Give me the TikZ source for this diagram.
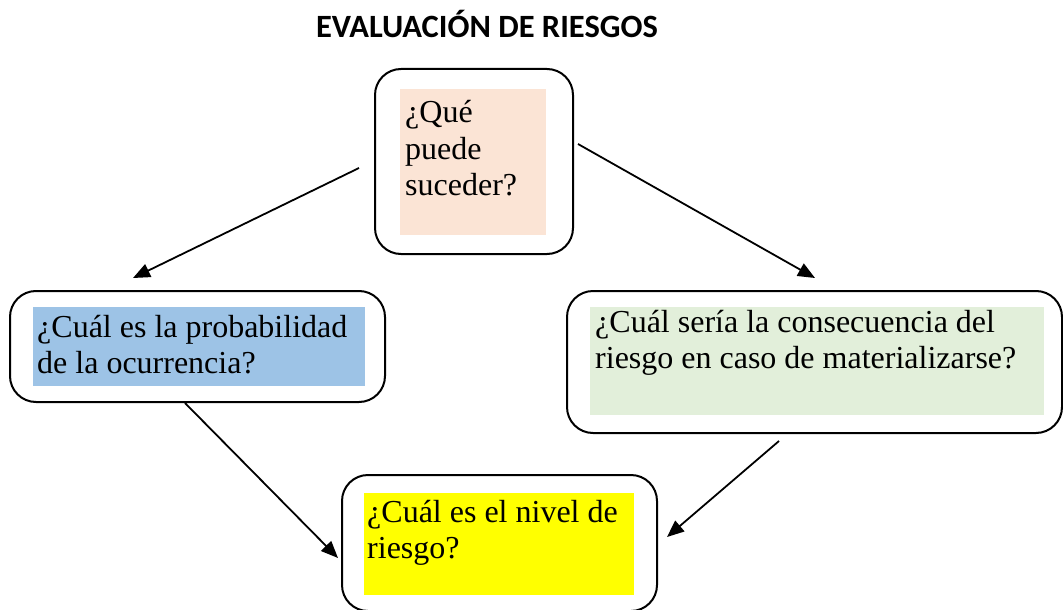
\documentclass[tikz,border=0pt]{standalone}
\usepackage{fontspec}
\setmainfont{Liberation Serif}
\newfontfamily\titlefont{Carlito}
\usetikzlibrary{arrows.meta}
\definecolor{peach}{HTML}{FBE4D5}
\definecolor{skyb}{HTML}{9DC3E6}
\definecolor{paleg}{HTML}{E2EFDA}
\definecolor{yell}{HTML}{FFFF00}
\tikzset{
  box/.style={draw=black, line width=2pt, rounded corners=26pt, fill=white, inner sep=0pt},
  fillbox/.style={draw=none, inner sep=0pt},
  txt/.style={anchor=base west, inner sep=0pt, font=\fontsize{32}{36}\selectfont},
  conn/.style={line width=1.8pt, -{Triangle[length=17pt,width=14pt]}},
}
\begin{document}
\begin{tikzpicture}[x=1pt,y=-1pt]
\useasboundingbox (0,0) rectangle (1063,610);
\clip (0,0) rectangle (1063,610);
\fill[white] (0,0) rectangle (1063,610);
\node[anchor=base, inner sep=0pt, font=\titlefont\bfseries\fontsize{32.5}{36}\selectfont] (title) at (487,38) {EVALUACIÓN DE RIESGOS};
% boxes
\node[box, minimum width=198pt, minimum height=185pt] (top) at (474,161.5) {};
\node[box, minimum width=375pt, minimum height=111pt] (left) at (197.5,346.5) {};
\node[box, minimum width=495pt, minimum height=142pt] (right) at (814.5,362) {};
\node[box, minimum width=315pt, minimum height=136pt] (bot) at (499.5,543) {};
% fills
\node[fillbox, fill=peach, minimum width=146pt, minimum height=146pt] (topf) at (473,162) {};
\node[fillbox, fill=skyb, minimum width=332pt, minimum height=79pt] (leftf) at (199,346.5) {};
\node[fillbox, fill=paleg, minimum width=454pt, minimum height=108pt] (rightf) at (817,361) {};
\node[fillbox, fill=yell, minimum width=270pt, minimum height=102pt] (botf) at (499,544) {};
% texts
\node[txt] (t1a) at (405,122) {¿Qué};
\node[txt] (t1b) at (405,159) {puede};
\node[txt] (t1c) at (405,195) {suceder?};
\node[txt] (t2a) at (37,337) {¿Cuál es la probabilidad};
\node[txt] (t2b) at (37,373) {de la ocurrencia?};
\node[txt] (t3a) at (595,332) {¿Cuál sería la consecuencia del};
\node[txt] (t3b) at (595,368) {riesgo en caso de materializarse?};
\node[txt] (t4a) at (367,522) {¿Cuál es el nivel de};
\node[txt] (t4b) at (367,558) {riesgo?};
% connector end points
\coordinate (a1s) at (359,168);
\coordinate (a1e) at (133,278);
\coordinate (a2s) at (578,144);
\coordinate (a2e) at (815,278);
\coordinate (a3s) at (185,403);
\coordinate (a3e) at (338,558);
\coordinate (a4s) at (779,441);
\coordinate (a4e) at (667,537);
\draw[conn] (a1s) -- (a1e);
\draw[conn] (a2s) -- (a2e);
\draw[conn] (a3s) -- (a3e);
\draw[conn] (a4s) -- (a4e);
\end{tikzpicture}
\end{document}
